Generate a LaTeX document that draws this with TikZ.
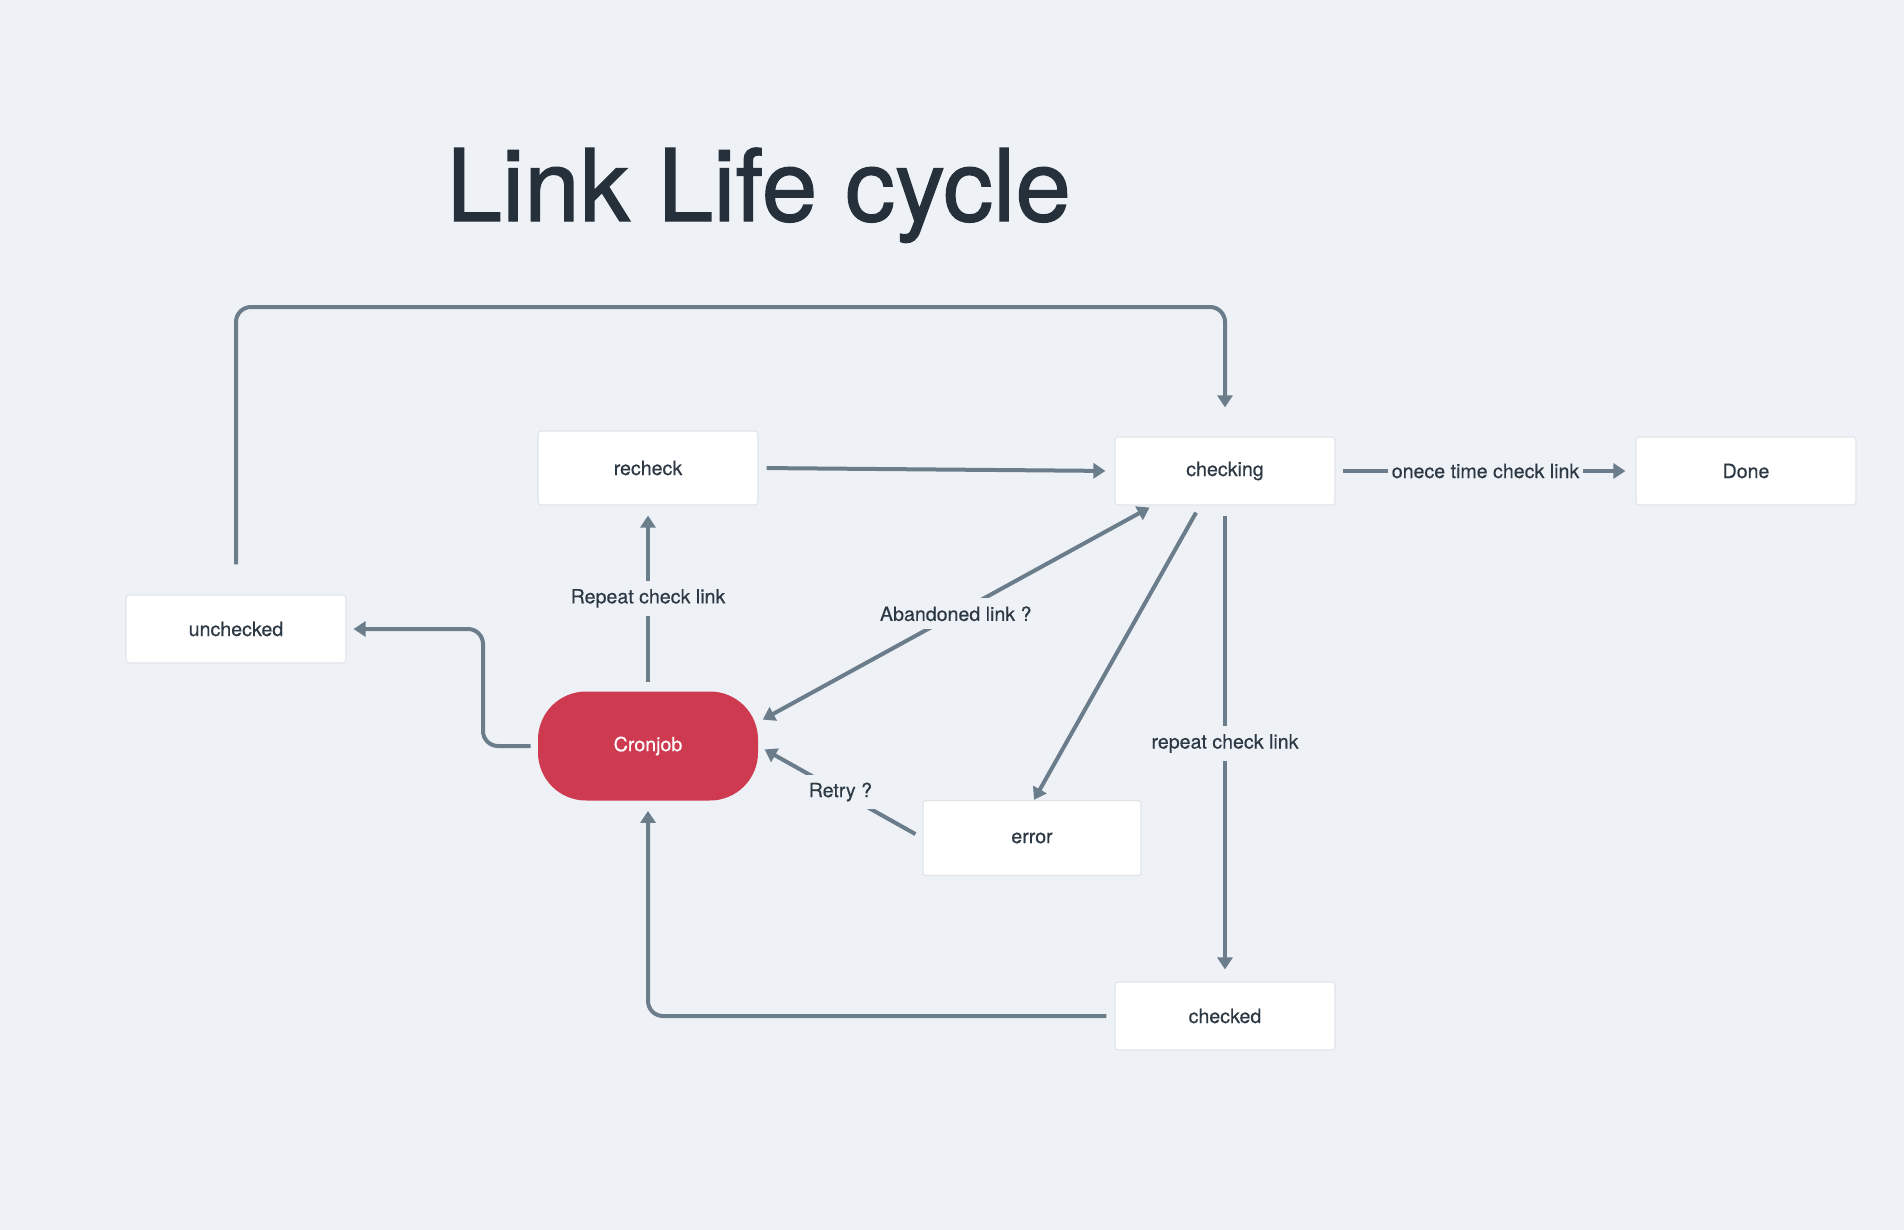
\documentclass[tikz,border=0pt]{standalone}
\usepackage{fontspec}
\setmainfont{TeX Gyre Heros}
\newfontfamily\labelfont[FakeBold=0.35]{TeX Gyre Heros}
\newfontfamily\headfont[FakeBold=1.2]{TeX Gyre Heros}
\usetikzlibrary{positioning,arrows.meta}
\definecolor{bgcol}{HTML}{EEF2F7}
\definecolor{linecol}{HTML}{6B7C8B}
\definecolor{textcol}{HTML}{2C3843}
\definecolor{titlecol}{HTML}{25303B}
\definecolor{cronred}{HTML}{CE3A4F}
\definecolor{boxedge}{HTML}{E1E5EA}
\tikzset{
    on grid,
    node distance=139pt,
    state/.style = {
        draw=boxedge,
        fill=white,
        shape=rectangle,
        rounded corners=1.5pt,
        minimum height=34pt,
        minimum width=110pt,
        line width=0.6pt,
        text=textcol,
        font=\labelfont\fontsize{9.8pt}{11pt}\selectfont
    },
    job/.style = {
        fill=cronred,
        shape=rectangle,
        rounded corners=24pt,
        minimum height=54.5pt,
        minimum width=110pt,
        text=white,
        font=\labelfont\fontsize{9.8pt}{11pt}\selectfont
    },
    tag/.style = {
        fill=bgcol,
        text=textcol,
        inner xsep=2pt,
        inner ysep=4pt,
        font=\labelfont\fontsize{9.8pt}{11pt}\selectfont
    },
    flow/.style = {
        draw=linecol,
        line width=2pt,
        ->
    },
    >={Triangle[width=7.5pt,length=6pt]},
}

\begin{document}
\begin{tikzpicture}[x=0.5pt,y=-0.5pt]
        \fill[bgcol] (0,0) rectangle (1904,1230);
        \node[anchor=base west, inner sep=0pt, text=titlecol, font=\headfont\fontsize{50pt}{60pt}\selectfont] (title) at (446,221) {Link Life cycle};

        \node[state, minimum height=37pt] (recheck) at (648,468) {recheck};
        \node[job, below=of recheck] (cron) {Cronjob};
        \node[state] (checking) at (1225,471) {checking};
        \node[state, right=260.5pt of checking] (done) {Done};
        \node[state, below=272.5pt of checking] (checked) {checked};
        \node[state] (unchecked) at (236,629) {unchecked};
        \node[state, minimum width=109pt, minimum height=37.5pt] (error) at (1032,838) {error};

        \coordinate (loop) at (730,307);
        \coordinate (bend) at (483,690);

        \path[flow, rounded corners=7.5pt, shorten <=15pt, shorten >=14.5pt] (unchecked.north) |- (loop) -| (checking.north);
        \path[flow, shorten <=4pt, shorten >=4.5pt] (recheck.east) -- (checking.west);
        \path[flow, shorten <=3.5pt, shorten >=5pt] (checking.east) -- node[tag, inner ysep=2pt] {onece time check link} (done.west);
        \path[flow, shorten <=4.5pt, shorten >=5pt] (cron.north) -- node[tag] {Repeat check link} (recheck.south);
        \path[flow, <->, shorten <=2.5pt, shorten >=2pt] ([yshift=12pt]cron.east) -- node[tag] {Abandoned link ?} ([xshift=-36pt]checking.south);
        \path[flow, shorten <=4pt] ([xshift=-12.5pt]checking.south) -- ([xshift=1pt]error.north);
        \path[flow, shorten <=5pt, shorten >=6pt] (checking.south) -- node[tag] {repeat check link} (checked.north);
        \path[flow, shorten <=4pt, shorten >=3.5pt] (error.west) -- node[tag] {Retry ?} (cron.east);
        \path[flow, rounded corners=7.5pt, shorten <=4pt, shorten >=5pt] (checked.west) -| (cron.south);
        \path[flow, rounded corners=7.5pt, shorten <=3.5pt, shorten >=3.5pt] (cron.west) -| (bend) |- (unchecked.east);
    \end{tikzpicture}
\end{document}
